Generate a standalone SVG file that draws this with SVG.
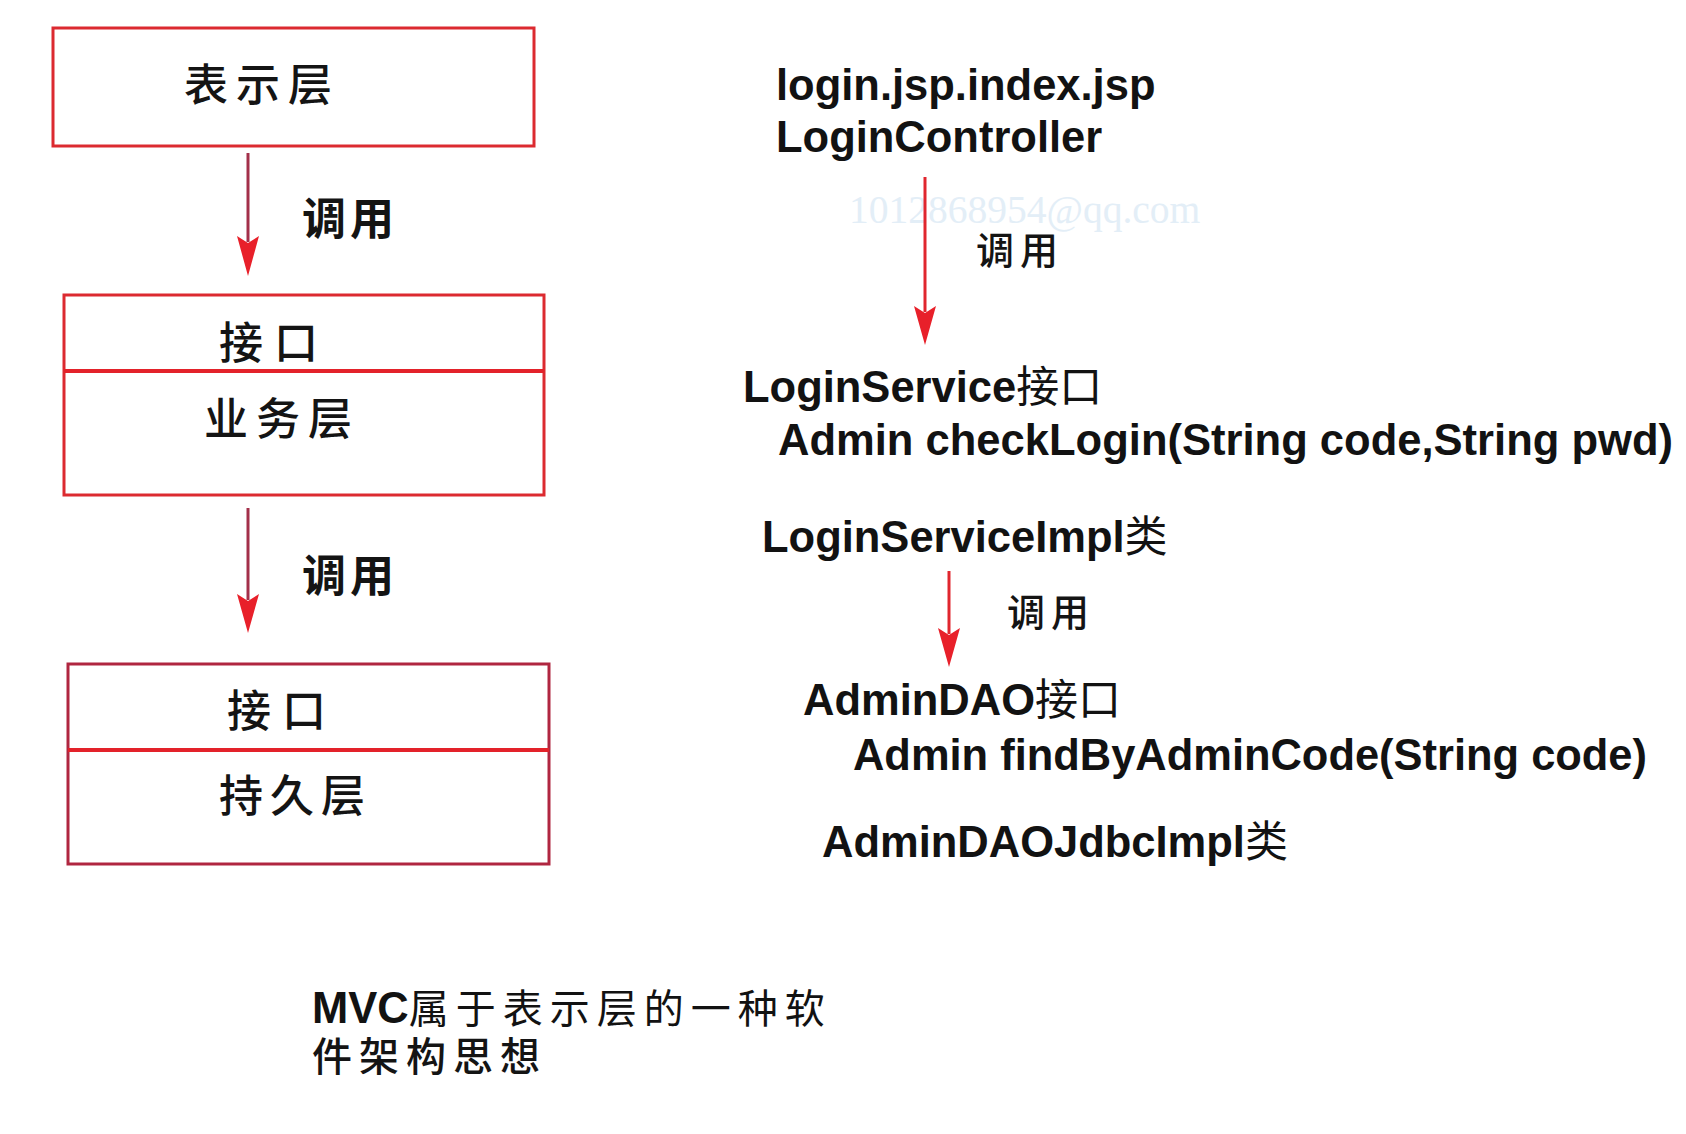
<svg xmlns="http://www.w3.org/2000/svg" width="1686" height="1134" viewBox="0 0 1686 1134">
<style>
.box{fill:none;stroke:#dc2a30;stroke-width:3}
.box3{fill:none;stroke:#b02640;stroke-width:3}
.div{stroke:#e3222a;stroke-width:4}
.cjk{font-family:"Noto Sans CJK SC",sans-serif;font-size:44px;font-weight:500;fill:#141414}
.lbl{font-family:"Noto Sans CJK SC",sans-serif;fill:#141414}
.lat{font-family:"Liberation Sans","Noto Sans CJK SC",sans-serif;font-size:43.5px;font-weight:bold;fill:#121212}
.zh{font-family:"Noto Sans CJK SC",sans-serif;font-weight:normal}
.wm{font-family:"Liberation Serif",serif;font-size:39.5px;fill:#e3eef7}
.ln{stroke:#a3304a;stroke-width:3}
.lnr{stroke:#e0262e;stroke-width:3}
.head{fill:#e8202a}
</style>
<rect width="1686" height="1134" fill="#ffffff"/>
<text class="wm" x="849" y="223">1012868954@qq.com</text>
<g id="connectors">
  <line class="ln" x1="248" y1="153" x2="248" y2="242"/>
  <polygon class="head" points="237,236 248,243 259,236 248,276"/>
  <line class="ln" x1="248" y1="508" x2="248" y2="600"/>
  <polygon class="head" points="237,594 248,601 259,594 248,633"/>
  <line class="lnr" x1="925" y1="177" x2="925" y2="312"/>
  <polygon class="head" points="914,306 925,313 936,306 925,345"/>
  <line class="lnr" x1="949" y1="571" x2="949" y2="634"/>
  <polygon class="head" points="938,628 949,635 960,628 949,667"/>
  <text class="lbl" x="302" y="235" font-size="44" font-weight="600" letter-spacing="4">调用</text>
  <text class="lbl" x="302" y="592" font-size="44" font-weight="600" letter-spacing="4">调用</text>
  <text class="lbl" x="976" y="264" font-size="38" font-weight="500" letter-spacing="6">调用</text>
  <text class="lbl" x="1007" y="626" font-size="38" font-weight="500" letter-spacing="6">调用</text>
</g>
<g id="presentation-layer">
  <rect class="box" x="53" y="28" width="481" height="118"/>
  <text class="cjk" x="184" y="101" letter-spacing="8">表示层</text>
</g>
<g id="business-layer">
  <rect class="box" x="64" y="295" width="480" height="200"/>
  <line class="div" x1="64" y1="371" x2="544" y2="371"/>
  <text class="cjk" x="219" y="359" letter-spacing="11">接口</text>
  <text class="cjk" x="204" y="435" letter-spacing="8">业务层</text>
</g>
<g id="persistence-layer">
  <rect class="box3" x="68" y="664" width="481" height="200"/>
  <line class="div" x1="68" y1="750" x2="549" y2="750"/>
  <text class="cjk" x="227" y="727" letter-spacing="11">接口</text>
  <text class="cjk" x="219" y="812" letter-spacing="7">持久层</text>
</g>
<g id="controller">
  <text class="lat" x="776" y="100">login.jsp.index.jsp</text>
  <text class="lat" x="776" y="152">LoginController</text>
</g>
<g id="login-service">
  <text class="lat" x="743" y="402">LoginService<tspan class="zh" font-size="43">接口</tspan></text>
  <text class="lat" x="778" y="455" textLength="895" lengthAdjust="spacingAndGlyphs">Admin checkLogin(String code,String pwd)</text>
</g>
<g id="login-service-impl">
  <text class="lat" x="762" y="552">LoginServiceImpl<tspan class="zh" font-size="43">类</tspan></text>
</g>
<g id="admin-dao">
  <text class="lat" x="803" y="715">AdminDAO<tspan class="zh" font-size="43">接口</tspan></text>
  <text class="lat" x="853" y="770" textLength="794" lengthAdjust="spacingAndGlyphs">Admin findByAdminCode(String code)</text>
</g>
<g id="admin-dao-impl">
  <text class="lat" x="822" y="857">AdminDAOJdbcImpl<tspan class="zh" font-size="43">类</tspan></text>
</g>
<g id="mvc-note">
  <text class="lat" x="312" y="1023" font-size="44">MVC<tspan class="zh" font-size="40" font-weight="500" letter-spacing="7">属于表示层的一种软</tspan></text>
  <text class="lbl" x="312" y="1071" font-size="40" font-weight="500" letter-spacing="7">件架构思想</text>
</g>
</svg>
